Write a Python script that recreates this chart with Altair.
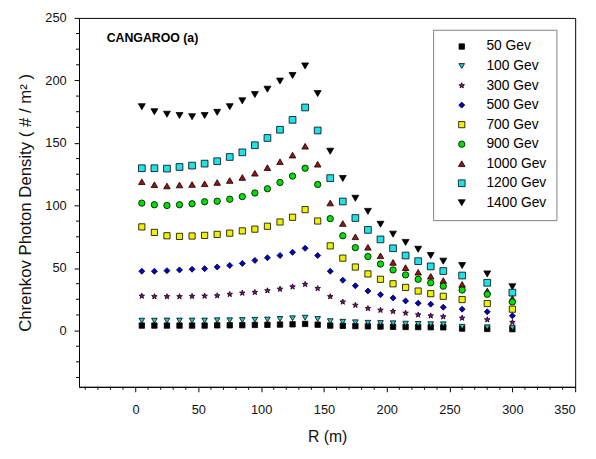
import altair as alt
import pandas as pd

R = [5, 15, 25, 35, 45, 55, 65, 75, 85, 95, 105, 115, 125, 135, 145,
     155, 165, 175, 185, 195, 205, 215, 225, 235, 245, 260, 280, 300]

gev_1400 = [179, 175, 173, 172, 171, 172, 174.5, 179, 183.7, 188.7, 193, 199.5, 204, 211.6, 189.5,
            143.4, 121.6, 105.8, 95.3, 85, 77.1, 70.5, 65, 60, 55.5, 52, 45.3, 35]
gev_1200 = [129.8, 129.8, 129.5, 130.8, 131.9, 133.5, 135.4, 138.8, 142.5, 148.2, 154, 160.6, 168.5, 178.4, 160,
            121.9, 103.2, 90, 80.5, 72.9, 65.8, 60, 55.5, 51.3, 47.6, 44, 38.2, 30.3]
gev_1000 = [119, 116.6, 115.6, 116.4, 116.8, 117.4, 118.4, 120, 122.4, 125.8, 130.3, 135, 140.3, 147.4, 133,
            102, 85.6, 75, 66.6, 59.8, 54.5, 50.3, 46.6, 43.4, 40, 36.9, 31.6, 25.6]
gev_900 = [101.9, 100.6, 100, 100.6, 101.4, 103, 103.4, 105, 107.1, 110, 113.4, 118.4, 123.5, 129.8, 116.8,
           89.5, 75.8, 66.3, 59.2, 53.2, 48.5, 44.5, 41, 38.2, 35.5, 32.4, 29, 22.9]
gev_700 = [82.9, 78.5, 75.8, 75.3, 75.6, 76.1, 76.9, 77.9, 79.7, 81.1, 83.4, 86.8, 90.6, 96.7, 87.6,
           67.7, 57.9, 50.8, 45.3, 41, 37.4, 34.5, 31.6, 29.5, 27.4, 24.8, 21.6, 17.1]
gev_500 = [47.4, 47.4, 47.9, 48.5, 49, 49.5, 50.8, 52.1, 53.7, 56.1, 58.2, 60, 62.6, 65.8, 60,
           47.4, 40.3, 35.8, 31.6, 28.7, 26.1, 23.7, 21.9, 21.1, 18.7, 17.1, 15, 11.8]
gev_300 = [27.6, 27.2, 27.2, 27.2, 27.4, 27.6, 27.9, 29, 30, 30.6, 31.9, 33.2, 35, 37, 33.7,
           27.2, 22.9, 20.3, 17.7, 16.3, 15.3, 14, 12.6, 11.8, 11.1, 10, 8.7, 6.6]
gev_100 = [7.9, 7.9, 8, 8, 8, 8, 8.2, 8.2, 8.4, 8.6, 8.8, 9.3, 9.8, 10.3, 9.2,
           7.5, 7, 6.6, 6.2, 6, 5.8, 5.5, 5.3, 5.1, 5, 3, 2.6, 2.2]
gev_50 = [4, 4, 4, 4, 4, 4, 4.2, 4.2, 4.3, 4.5, 4.6, 4.8, 5, 5.3, 4.7,
          4, 3.8, 3.6, 3.4, 3.2, 3, 2.9, 2.8, 2.7, 2.6, 1.6, 1.3, 1.1]

legend_order = ["50 Gev", "100 Gev", "300 Gev", "500 Gev", "700 Gev",
                "900 Gev", "1000 Gev", "1200 Gev", "1400 Gev"]
colors = ["#000000", "#20c8d0", "#a000a0", "#0000c8", "#f0f000",
          "#00e000", "#a01010", "#20e0e8", "#000000"]
STAR = ("M0,-1 L0.235,-0.324 L0.951,-0.309 L0.380,0.124 L0.588,0.809 L0,0.4 "
        "L-0.588,0.809 L-0.380,0.124 L-0.951,-0.309 L-0.235,-0.324 Z")
shapes = ["square", "triangle-down", STAR, "diamond", "square",
          "circle", "triangle-up", "square", "triangle-down"]
sizes = [30, 49, 150, 64, 42, 81, 49, 49, 72]

draw_order = [("1400 Gev", gev_1400), ("1200 Gev", gev_1200), ("1000 Gev", gev_1000),
              ("900 Gev", gev_900), ("700 Gev", gev_700), ("500 Gev", gev_500),
              ("300 Gev", gev_300), ("50 Gev", gev_50), ("100 Gev", gev_100)]

x_range = [-45, 350]
y_range = [-45, 250]
x_major = [0, 50, 100, 150, 200, 250, 300, 350]
x_minor = [-40, -30, -20, -10, 10, 20, 30, 40, 60, 70, 80, 90, 110, 120, 130, 140,
           160, 170, 180, 190, 210, 220, 230, 240, 260, 270, 280, 290, 310, 320, 330, 340]
y_major = [0, 50, 100, 150, 200, 250]
y_minor = [-37.5, -25, -12.5, 12.5, 25, 37.5, 62.5, 75, 87.5, 112.5, 125, 137.5,
           162.5, 175, 187.5, 212.5, 225, 237.5]

rows = []
for name, vals in draw_order:
    for r, v in zip(R, vals):
        rows.append({"R": r, "density": v, "series": name})
df = pd.DataFrame(rows)

FONT = "Liberation Sans"
W, H = 503, 374

x_scale = alt.Scale(domain=x_range, nice=False, zero=False)
y_scale = alt.Scale(domain=y_range, nice=False, zero=False)

legend = alt.Legend(
    title=None, orient="none", legendX=359, legendY=12, padding=10,
    strokeColor="#808080", fillColor="white",
    labelFont=FONT, labelFontSize=14, labelColor="black",
    rowPadding=5.8, labelOffset=18, symbolOffset=12,
    symbolStrokeColor="black", symbolStrokeWidth=0.8,
)

points = alt.Chart(df).mark_point(
    filled=True, stroke="black", strokeWidth=0.8, opacity=1, fillOpacity=1
).encode(
    x=alt.X("R:Q", scale=x_scale,
            axis=alt.Axis(values=x_major, title="R (m)", grid=False, orient="bottom",
                          domain=True, domainColor="black", domainWidth=1,
                          ticks=True, tickColor="black", tickWidth=1, tickSize=5,
                          labelPadding=12, titlePadding=12,
                          labelFont=FONT, titleFont=FONT, titleFontWeight="normal",
                          labelColor="#111", titleColor="#111",
                          labelFontSize=13, titleFontSize=16)),
    y=alt.Y("density:Q", scale=y_scale,
            axis=alt.Axis(values=y_major, title="Chrenkov Photon Density ( # / m² )",
                          grid=False, orient="left",
                          domain=True, domainColor="black", domainWidth=1,
                          ticks=True, tickColor="black", tickWidth=1, tickSize=5,
                          labelPadding=8, titlePadding=10,
                          labelFont=FONT, titleFont=FONT, titleFontWeight="normal",
                          labelColor="#111", titleColor="#111",
                          labelFontSize=13, titleFontSize=17)),
    color=alt.Color("series:N", scale=alt.Scale(domain=legend_order, range=colors), legend=legend),
    shape=alt.Shape("series:N", scale=alt.Scale(domain=legend_order, range=shapes), legend=legend),
    size=alt.Size("series:N", scale=alt.Scale(domain=legend_order, range=sizes), legend=legend),
)

# minor ticks
xt_minor = alt.Chart(pd.DataFrame({"v": x_minor})).mark_tick(
    color="black", thickness=1, size=3, opacity=1
).encode(x=alt.X("v:Q", scale=x_scale), y=alt.value(H + 1.5))
yt_minor = alt.Chart(pd.DataFrame({"v": y_minor})).mark_tick(
    color="black", thickness=1, size=3, opacity=1
).encode(y=alt.Y("v:Q", scale=y_scale), x=alt.value(-1.5))

label = alt.Chart(pd.DataFrame({"t": ["CANGAROO (a)"]})).mark_text(
    align="left", baseline="middle", font=FONT, fontSize=12.5, fontWeight="bold", color="black"
).encode(x=alt.value(28), y=alt.value(20), text="t:N")

chart = alt.layer(
    points, xt_minor, yt_minor, label
).properties(
    width=W, height=H,
    autosize=alt.AutoSizeParams(type="none"),
    padding={"left": 72, "top": 7, "right": 13, "bottom": 62},
).configure_view(stroke="black", strokeWidth=1)

chart.save("out.html", embed_options={"renderer": "svg", "actions": False})
